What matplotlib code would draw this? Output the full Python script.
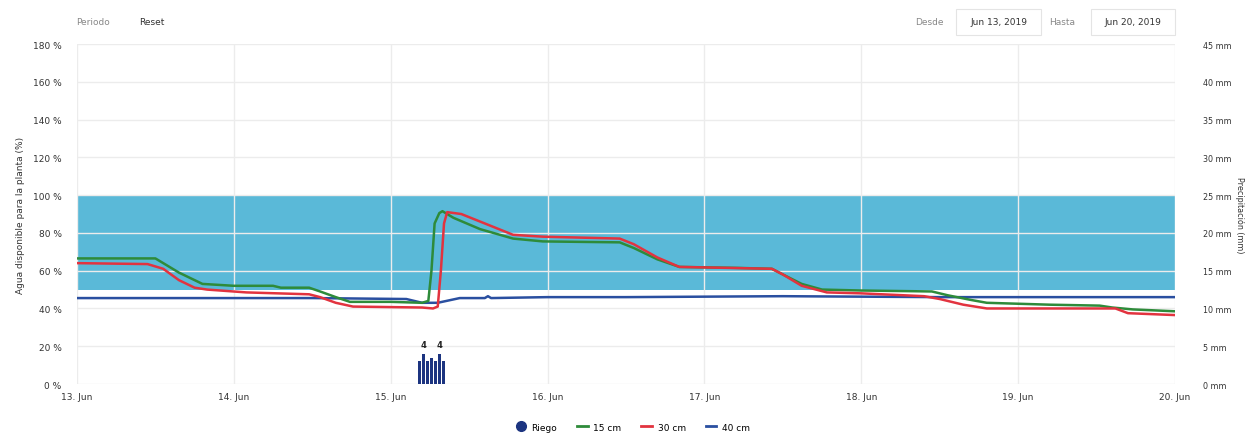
#!/usr/bin/env python3

import matplotlib.pyplot as plt
from matplotlib.lines import Line2D
from matplotlib.patches import FancyBboxPatch

# Days since 13 Jun 2019 and soil water (%)
green_t = [0, 0.5, 0.55, 0.65, 0.75, 0.8, 1.0, 1.25, 1.3, 1.48, 1.55, 1.65, 1.74, 2.0, 2.2,
           2.24, 2.26, 2.28, 2.31, 2.33, 2.4, 2.57, 2.78, 2.97, 3.46, 3.55, 3.7, 3.84, 4.2,
           4.43, 4.5, 4.62, 4.75, 5.0, 5.45, 5.55, 5.7, 5.8, 6.2, 6.52, 6.6, 6.73, 7.0]
green_v = [66.5, 66.5, 64, 59, 55, 53, 52, 52, 51, 51, 49, 46, 43.5, 43.5, 43,
           44, 60, 85, 90.5, 91.5, 88, 82, 77, 75.5, 75, 72, 66, 62, 61.5,
           61, 58, 53, 50, 49.5, 49, 47, 44.5, 43, 42, 41.5, 40.5, 39.5, 38.5]

red_t = [0, 0.45, 0.55, 0.65, 0.75, 0.83, 1.08, 1.48, 1.55, 1.65, 1.76, 2.2, 2.27,
         2.3, 2.32, 2.34, 2.36, 2.45, 2.57, 2.78, 2.97, 3.46, 3.55, 3.7, 3.84, 4.43,
         4.5, 4.62, 4.78, 5.0, 5.4, 5.5, 5.65, 5.8, 6.2, 6.62, 6.7, 6.85, 7.0]
red_v = [64, 63.5, 61, 55, 51, 50, 48.5, 47.5, 46, 43, 41, 40.5, 40,
         41, 60, 85, 91, 90, 86, 79, 78, 77, 74, 67, 62, 61,
         58, 52, 48.5, 48, 46.5, 45, 42, 40, 40, 40, 37.5, 37, 36.5]

blue_t = [0, 1.5, 2.1, 2.2, 2.3, 2.44, 2.6, 2.62, 2.64, 3.0, 3.5, 4.5, 5.5, 7.0]
blue_v = [45.5, 45.5, 45, 43, 43, 45.5, 45.5, 46.5, 45.5, 46, 46, 46.5, 46, 46]

# Irrigation (mm)
riego_t = [2.185, 2.21, 2.236, 2.26, 2.287, 2.312, 2.338]
riego_v = [3, 4, 3, 3.5, 3, 4, 3]

day_labels = ["13. Jun", "14. Jun", "15. Jun", "16. Jun", "17. Jun", "18. Jun", "19. Jun", "20. Jun"]

c_green = "#2e8b3a"
c_red = "#e2333f"
c_blue = "#2a4fa0"
c_riego = "#1c3480"
c_band = "#5ab9d8"


def main():
    fig = plt.figure(figsize=(12.45, 4.35), dpi=100)
    ax = fig.add_axes([0.0618, 0.1149, 0.882, 0.7816])

    ax.axhspan(50, 100, color=c_band, zorder=0.2, lw=0)
    ax.set_axisbelow(True)
    ax.grid(True, color="#ececec", lw=1)

    ax.plot(blue_t, blue_v, color=c_blue, lw=1.8, zorder=3)
    ax.plot(green_t, green_v, color=c_green, lw=1.8, zorder=4)
    ax.plot(red_t, red_v, color=c_red, lw=1.8, zorder=5)

    ax.set_xlim(0, 7)
    ax.set_ylim(0, 180)
    ax.set_xticks(range(8))
    ax.set_xticklabels(day_labels)
    ax.set_yticks(range(0, 181, 20))
    ax.set_yticklabels([f"{v} %" for v in range(0, 181, 20)])
    ax.tick_params(axis="both", length=0, labelsize=6.5, labelcolor="#333333")
    ax.tick_params(axis="y", pad=11)
    ax.tick_params(axis="x", pad=6)
    for s in ax.spines.values():
        s.set_visible(False)
    ax.set_ylabel("Agua disponible para la planta (%)", fontsize=6.5, color="#333333", labelpad=6)

    ax2 = ax.twinx()
    ax2.bar(riego_t, riego_v, width=0.018, color=c_riego, zorder=6)
    for t, v in zip(riego_t, riego_v):
        if v == max(riego_v):
            ax2.text(t, v + 0.6, f"{v:g}", ha="center", va="bottom", fontsize=6,
                     fontweight="bold", color="#222222")
    ax2.set_ylim(0, 45)
    ax2.set_yticks(range(0, 46, 5))
    ax2.set_yticklabels([f"{v} mm" for v in range(0, 46, 5)])
    ax2.tick_params(axis="y", length=0, labelsize=5.8, labelcolor="#333333", pad=20)
    for s in ax2.spines.values():
        s.set_visible(False)
    fig.text(0.9955, 0.505, "Precipitación (mm)", fontsize=5.8, color="#333333",
             rotation=270, ha="center", va="center")

    # Header controls
    fig.text(0.061, 0.948, "Periodo", fontsize=6.5, color="#888888", va="center")
    fig.text(0.112, 0.948, "Reset", fontsize=6.5, color="#333333", va="center")
    fig.text(0.735, 0.948, "Desde", fontsize=6.5, color="#888888", va="center")
    fig.text(0.843, 0.948, "Hasta", fontsize=6.5, color="#888888", va="center")
    for x0, label in [(0.768, "Jun 13, 2019"), (0.876, "Jun 20, 2019")]:
        fig.patches.append(FancyBboxPatch((x0, 0.918), 0.068, 0.06, boxstyle="square,pad=0",
                                          transform=fig.transFigure, fc="white",
                                          ec="#e4e4e4", lw=0.8))
        fig.text(x0 + 0.034, 0.948, label, fontsize=6.5, color="#333333",
                 ha="center", va="center")

    handles = [
        Line2D([], [], color=c_riego, marker="o", ls="none", markersize=7),
        Line2D([], [], color=c_green, lw=2),
        Line2D([], [], color=c_red, lw=2),
        Line2D([], [], color=c_blue, lw=2),
    ]
    fig.legend(handles, ["Riego", "15 cm", "30 cm", "40 cm"], loc="center",
               bbox_to_anchor=(0.508, 0.016), ncol=4, frameon=False, fontsize=6.5,
               handlelength=1.2, columnspacing=2.2, handletextpad=0.6)

    fig.savefig("out.png", dpi=100)


if __name__ == "__main__":
    main()
